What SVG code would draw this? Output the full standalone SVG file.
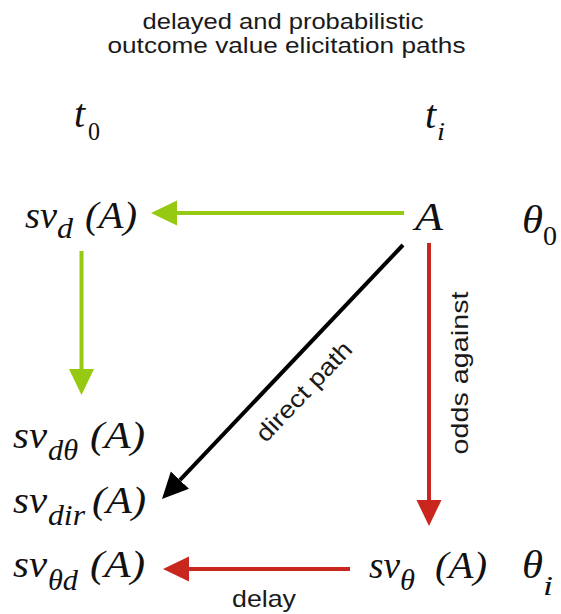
<svg xmlns="http://www.w3.org/2000/svg" width="561" height="614" viewBox="0 0 561 614">
<style>
.sans{font-family:"Liberation Sans",Arial,sans-serif;fill:#1a1a1a}
.m{font-family:"Liberation Serif","Times New Roman",serif;font-style:italic;fill:#111}
.up{font-family:"Liberation Serif","Times New Roman",serif;font-style:normal;fill:#111}
.g{stroke:#95C912;stroke-width:4;fill:none}
.r{stroke:#C9271E;stroke-width:4;fill:none}
.k{stroke:#000;stroke-width:4;fill:none}
</style>
<defs>
<marker id="ag" markerUnits="userSpaceOnUse" markerWidth="27" markerHeight="26" refX="0" refY="12.5" orient="auto"><path d="M0,0 L26,12.5 L0,25 Z" fill="#95C912"/></marker>
<marker id="ar" markerUnits="userSpaceOnUse" markerWidth="27" markerHeight="26" refX="0" refY="12.5" orient="auto"><path d="M0,0 L26,12.5 L0,25 Z" fill="#C9271E"/></marker>
<marker id="ak" markerUnits="userSpaceOnUse" markerWidth="27" markerHeight="26" refX="0" refY="12.5" orient="auto"><path d="M0,0 L26,12.5 L0,25 Z" fill="#000"/></marker>
</defs>
<rect width="561" height="614" fill="#fff"/>
<g id="title">
<text class="sans" x="283" y="29" font-size="22" text-anchor="middle" textLength="281" lengthAdjust="spacingAndGlyphs">delayed and probabilistic</text>
<text class="sans" x="286.5" y="53" font-size="22" text-anchor="middle" textLength="358" lengthAdjust="spacingAndGlyphs">outcome value elicitation paths</text>
</g>
<g id="t0">
<text class="m" x="74" y="127" font-size="40">t</text>
<text class="up" x="88" y="140" font-size="26" textLength="12" lengthAdjust="spacingAndGlyphs">0</text>
</g>
<g id="ti">
<text class="m" x="425" y="128" font-size="40">t</text>
<text class="m" x="437" y="140" font-size="26" textLength="8" lengthAdjust="spacingAndGlyphs">i</text>
</g>
<g id="svd">
<text class="m" x="25" y="228" font-size="38" textLength="32" lengthAdjust="spacingAndGlyphs">sv</text>
<text class="m" x="57" y="238" font-size="30" textLength="16" lengthAdjust="spacingAndGlyphs">d</text>
<text class="m" x="85" y="228" font-size="38" textLength="52" lengthAdjust="spacingAndGlyphs">(A)</text>
</g>
<g id="A">
<text class="m" x="415" y="230" font-size="40" textLength="28" lengthAdjust="spacingAndGlyphs">A</text>
</g>
<g id="theta0">
<text class="m" x="522" y="233" font-size="41" textLength="21" lengthAdjust="spacingAndGlyphs">θ</text>
<text class="up" x="543" y="245" font-size="28" textLength="14" lengthAdjust="spacingAndGlyphs">0</text>
</g>
<g id="svdtheta">
<text class="m" x="13" y="448" font-size="38" textLength="34" lengthAdjust="spacingAndGlyphs">sv</text>
<text class="m" x="48" y="460" font-size="30" textLength="30" lengthAdjust="spacingAndGlyphs">dθ</text>
<text class="m" x="90" y="448" font-size="38" textLength="55" lengthAdjust="spacingAndGlyphs">(A)</text>
</g>
<g id="svdir">
<text class="m" x="13" y="513" font-size="38" textLength="34" lengthAdjust="spacingAndGlyphs">sv</text>
<text class="m" x="48" y="525" font-size="30" textLength="37" lengthAdjust="spacingAndGlyphs">dir</text>
<text class="m" x="92" y="513" font-size="38" textLength="54" lengthAdjust="spacingAndGlyphs">(A)</text>
</g>
<g id="svthetad">
<text class="m" x="13" y="577" font-size="38" textLength="34" lengthAdjust="spacingAndGlyphs">sv</text>
<text class="m" x="48" y="590" font-size="30" textLength="30" lengthAdjust="spacingAndGlyphs">θd</text>
<text class="m" x="90" y="577" font-size="38" textLength="55" lengthAdjust="spacingAndGlyphs">(A)</text>
</g>
<g id="svtheta">
<text class="m" x="369" y="578" font-size="38" textLength="31" lengthAdjust="spacingAndGlyphs">sv</text>
<text class="m" x="400" y="590" font-size="30" textLength="15" lengthAdjust="spacingAndGlyphs">θ</text>
<text class="m" x="435" y="578" font-size="38" textLength="52" lengthAdjust="spacingAndGlyphs">(A)</text>
</g>
<g id="thetai">
<text class="m" x="522" y="578" font-size="41" textLength="21" lengthAdjust="spacingAndGlyphs">θ</text>
<text class="m" x="543" y="595" font-size="28" textLength="10" lengthAdjust="spacingAndGlyphs">i</text>
</g>
<g id="connectors">
<path class="g" d="M404,213 L177,213" marker-end="url(#ag)"/>
<path class="g" d="M81.5,251 L81.5,369" marker-end="url(#ag)"/>
<path class="k" d="M403,245 L179.9,480.1" marker-end="url(#ak)"/>
<path class="r" d="M429,243 L429,500" marker-end="url(#ar)"/>
<path class="r" d="M350,569 L189,569" marker-end="url(#ar)"/>
<text class="sans" transform="translate(309.8,397) rotate(-46.5)" font-size="24" text-anchor="middle" textLength="128" lengthAdjust="spacingAndGlyphs">direct path</text>
<text class="sans" transform="translate(468,373) rotate(-90)" font-size="24" text-anchor="middle" textLength="163" lengthAdjust="spacingAndGlyphs">odds against</text>
<text class="sans" x="264" y="607" font-size="24" text-anchor="middle" textLength="64" lengthAdjust="spacingAndGlyphs">delay</text>
</g>
</svg>
